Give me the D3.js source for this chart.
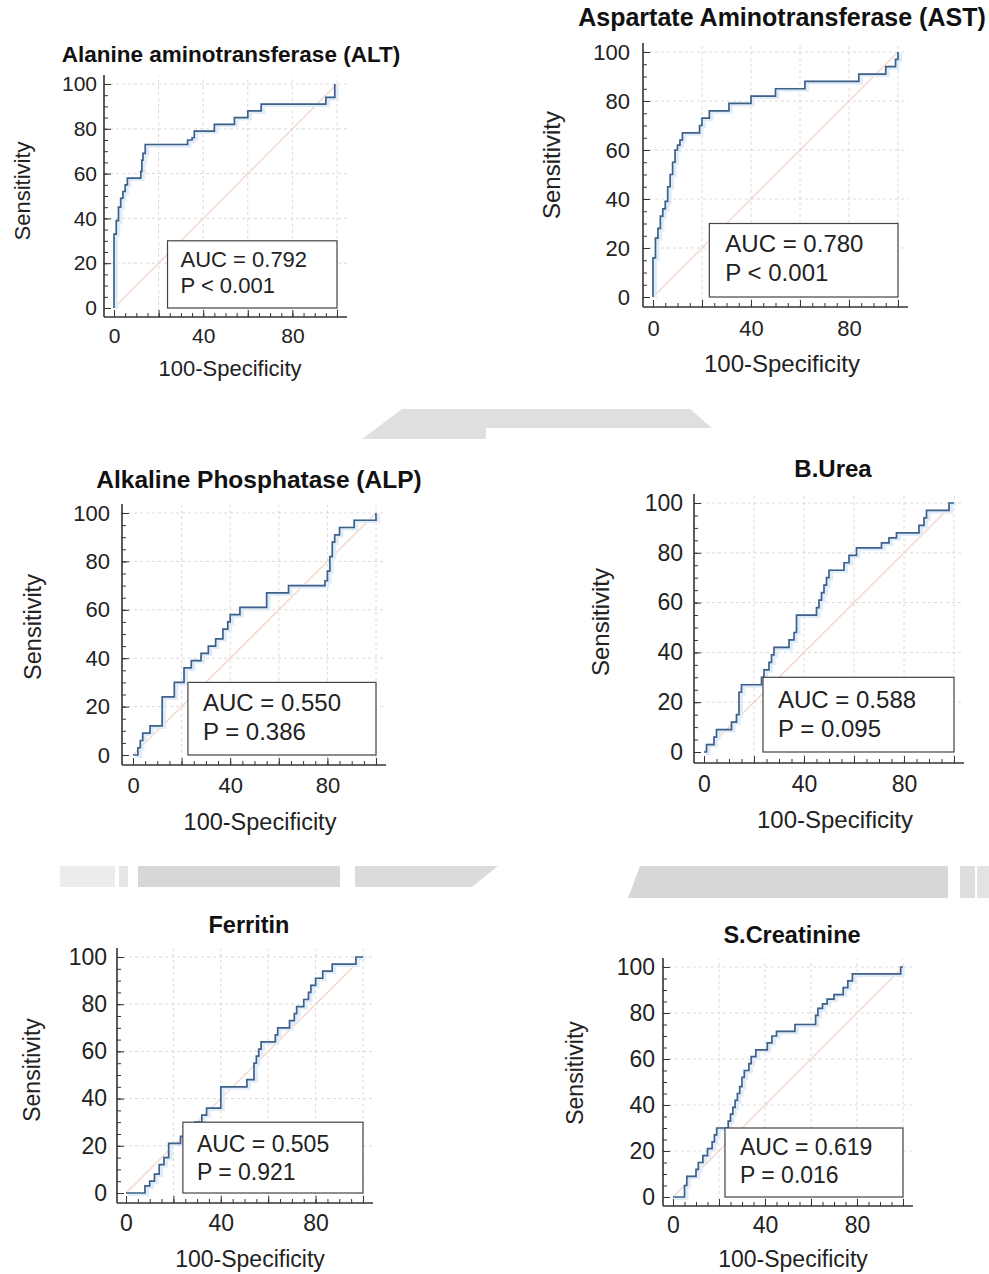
<!DOCTYPE html>
<html>
<head>
<meta charset="utf-8">
<script src="https://cdn.jsdelivr.net/npm/d3@7"></script>
<style>
  body { margin: 0; background: #fff; }
  svg { display: block; font-family: "Liberation Sans", Arial, sans-serif; }
</style>
</head>
<body>
<svg width="989" height="1274"></svg>
<script>
// ROC points as [100-Specificity, Sensitivity]
const altRoc = [[0,0],[0,33],[1,33],[1,39],[2,39],[2,45],[3,45],[3,49],[4,49],[4,52],[5,52],[5,55],[6,55],[6,58],[12,58],[12,61],[12.5,61],[12.5,66],[13,66],[13,69],[14,69],[14,73],[33,73],[33,75],[35,75],[35,76],[36,76],[36,79],[45,79],[45,82],[54,82],[54,85],[60,85],[60,88],[66,88],[66,91],[95,91],[95,94],[99,94],[99,100]];
const astRoc = [[0,0],[0,16],[1,16],[1,24],[2,24],[2,28],[3,28],[3,33],[4,33],[4,36],[5,36],[5,39],[6,39],[6,45],[7,45],[7,50],[8,50],[8,55],[9,55],[9,60],[10,60],[10,62],[11,62],[11,64],[12,64],[12,67],[19,67],[19,70],[20,70],[20,73],[23,73],[23,76],[31,76],[31,79],[40,79],[40,82],[50,82],[50,85],[62,85],[62,88],[84,88],[84,91],[95,91],[95,94],[99,94],[99,97],[100,97],[100,100]];
const alpRoc = [[0,0],[2,0],[2,3],[3,3],[3,6],[4,6],[4,9],[7,9],[7,12],[12,12],[12,24],[17,24],[17,30],[21,30],[21,36],[24,36],[24,39],[28,39],[28,42],[31,42],[31,45],[34,45],[34,48],[37,48],[37,52],[39,52],[39,55],[40,55],[40,58],[44,58],[44,61],[55,61],[55,67],[64,67],[64,70],[79,70],[79,72],[80,72],[80,76],[81,76],[81,82],[82,82],[82,88],[83,88],[83,91],[85,91],[85,94],[91,94],[91,97],[100,97],[100,100]];
const ureaRoc = [[0,0],[1,0],[1,3],[4,3],[4,6],[5,6],[5,9],[11,9],[11,12],[13,12],[13,15],[14,15],[14,24],[15,24],[15,27],[23,27],[23,30],[24,30],[24,33],[26,33],[26,36],[27,36],[27,39],[28,39],[28,42],[34,42],[34,45],[36,45],[36,48],[37,48],[37,55],[45,55],[45,58],[46,58],[46,61],[47,61],[47,64],[48,64],[48,67],[49,67],[49,70],[50,70],[50,73],[56,73],[56,76],[58,76],[58,79],[61,79],[61,82],[71,82],[71,84],[74,84],[74,86],[77,86],[77,88],[86,88],[86,91],[88,91],[88,94],[89,94],[89,97],[98,97],[98,100],[100,100]];
const ferritinRoc = [[0,0],[8,0],[8,3],[10,3],[10,5],[12,5],[12,8],[14,8],[14,12],[16,12],[16,15],[18,15],[18,21],[23,21],[23,24],[26,24],[26,27],[29,27],[29,30],[32,30],[32,33],[34,33],[34,36],[40,36],[40,45],[51,45],[51,48],[54,48],[54,55],[55,55],[55,58],[56,58],[56,61],[57,61],[57,64],[63,64],[63,67],[64,67],[64,70],[69,70],[69,73],[71,73],[71,76],[72,76],[72,79],[75,79],[75,82],[77,82],[77,85],[78,85],[78,88],[80,88],[80,91],[83,91],[83,94],[87,94],[87,97],[97,97],[97,100],[100,100]];
const creatRoc = [[0,0],[5,0],[5,5],[6,5],[6,9],[10,9],[10,12],[11,12],[11,15],[13,15],[13,18],[15,18],[15,21],[17,21],[17,24],[18,24],[18,27],[19,27],[19,30],[24,30],[24,33],[25,33],[25,36],[26,36],[26,39],[27,39],[27,42],[28,42],[28,45],[29,45],[29,48],[30,48],[30,52],[31,52],[31,55],[33,55],[33,58],[34,58],[34,61],[36,61],[36,64],[41,64],[41,67],[43,67],[43,70],[45,70],[45,72],[53,72],[53,75],[62,75],[62,79],[63,79],[63,82],[65,82],[65,84],[67,84],[67,86],[70,86],[70,88],[74,88],[74,91],[76,91],[76,94],[78,94],[78,97],[99,97],[99,100],[100,100]];

const titles = ["Alanine aminotransferase (ALT)", "Aspartate Aminotransferase (AST)", "Alkaline Phosphatase (ALP)", "B.Urea", "Ferritin", "S.Creatinine"];
const aucValues = ["0.792", "0.780", "0.550", "0.588", "0.505", "0.619"];
const pValues = ["P < 0.001", "P < 0.001", "P = 0.386", "P = 0.095", "P = 0.921", "P = 0.016"];
const curves = [altRoc, astRoc, alpRoc, ureaRoc, ferritinRoc, creatRoc];
const xTickLabels = [0, 40, 80];
const yTickLabels = [0, 20, 40, 60, 80, 100];

// where each panel sits on the page
const layout = [
  { x0: 114, x100: 337, y0: 308, y100: 84,  ax: 104, ay: 317, titleY: 62,  titleX: 231, senX: 22,  senY: 191,  labY: 376,  labX: 230, boxL: 24,   t1: 26, t2: 52, tx: 13, fT: 22.5, fK: 21, fL: 22, fA: 22, px: 11, py: 7 },
  { x0: 653, x100: 898, y0: 297, y100: 52,  ax: 643, ay: 307, titleY: 26,  titleX: 782, senX: 551, senY: 165,  labY: 372,  labX: 782, boxL: 23,   t1: 28, t2: 57, tx: 16, fT: 25, fK: 22, fL: 24, fA: 24, px: 13, py: 13 },
  { x0: 133, x100: 376, y0: 755, y100: 513, ax: 122, ay: 765, titleY: 488, titleX: 259, senX: 33,  senY: 627,  labY: 830,  labX: 260, boxL: 22.6, t1: 29, t2: 58, tx: 15, fT: 24.5, fK: 22, fL: 23.5, fA: 24, px: 12, py: 12 },
  { x0: 704, x100: 954, y0: 752, y100: 503, ax: 694, ay: 763, titleY: 477, titleX: 833, senX: 600, senY: 622,  labY: 828,  labX: 835, boxL: 23.6, t1: 31, t2: 60, tx: 15, fT: 24, fK: 23, fL: 24, fA: 24, px: 13, py: 11 },
  { x0: 126, x100: 363, y0: 1193, y100: 957, ax: 117, ay: 1203, titleY: 933, titleX: 249, senX: 32, senY: 1070, labY: 1267, labX: 250, boxL: 24, t1: 30, t2: 58, tx: 14, fT: 23.5, fK: 23, fL: 23, fA: 23, px: 12, py: 10 },
  { x0: 673, x100: 903, y0: 1197, y100: 967, ax: 663, ay: 1206, titleY: 943, titleX: 792, senX: 575, senY: 1073, labY: 1267, labX: 793, boxL: 22.6, t1: 27, t2: 55, tx: 15, fT: 23.5, fK: 23, fL: 23, fA: 23, px: 11, py: 8 }
];

const svg = d3.select("svg");

// grey page bands behind the figure
const bands = [
  { pts: [[362,439],[402,409],[690,409],[712,428],[486,428],[486,439]], c: "#dfdfdf" },
  { pts: [[60,866],[115,866],[115,887],[60,887]], c: "#ececec" },
  { pts: [[119,866],[128,866],[128,887],[119,887]], c: "#e6e6e6" },
  { pts: [[138,866],[340,866],[340,887],[138,887]], c: "#d7d7d7" },
  { pts: [[355,866],[498,866],[472,887],[355,887]], c: "#dbdbdb" },
  { pts: [[640,866],[948,866],[948,898],[628,898]], c: "#d7d7d7" },
  { pts: [[960,866],[975,866],[975,898],[960,898]], c: "#dedede" },
  { pts: [[977,866],[989,866],[989,898],[977,898]], c: "#e3e3e3" }
];
svg.selectAll("polygon.band").data(bands).enter().append("polygon")
  .attr("points", d => d.pts.join(" "))
  .attr("fill", d => d.c);

layout.forEach((p, i) => {
  const x = d3.scaleLinear().domain([0, 100]).range([p.x0, p.x100]);
  const y = d3.scaleLinear().domain([0, 100]).range([p.y0, p.y100]);
  const g = svg.append("g");

  // dashed grid
  g.selectAll(".gx").data(d3.range(20, 101, 20)).enter().append("line")
    .attr("x1", d => x(d)).attr("x2", d => x(d))
    .attr("y1", p.ay).attr("y2", y(100) - 8)
    .attr("stroke", "#dadada").attr("stroke-dasharray", "3,3");
  g.selectAll(".gy").data(d3.range(20, 101, 20)).enter().append("line")
    .attr("y1", d => y(d)).attr("y2", d => y(d))
    .attr("x1", p.ax).attr("x2", x(100) + 10)
    .attr("stroke", "#dadada").attr("stroke-dasharray", "3,3");

  // chance line
  g.append("line")
    .attr("x1", x(0)).attr("y1", y(0)).attr("x2", x(100)).attr("y2", y(100))
    .attr("stroke", "#f2d6ca").attr("stroke-width", 1.3);

  // ROC curve
  const line = d3.line().x(d => x(d[0])).y(d => y(d[1]));
  g.append("path").datum(curves[i]).attr("d", line)
    .attr("fill", "none").attr("stroke", "#e0edf8").attr("stroke-width", 4)
    .attr("transform", "translate(2,1)");
  g.append("path").datum(curves[i]).attr("d", line)
    .attr("fill", "none").attr("stroke", "#3f6189").attr("stroke-width", 1.7);

  // AUC box
  g.append("rect")
    .attr("x", x(p.boxL)).attr("y", y(30))
    .attr("width", x(100) - x(p.boxL)).attr("height", y(0) - y(30))
    .attr("fill", "#fff").attr("stroke", "#444").attr("stroke-width", 1.2);
  g.append("text").attr("x", x(p.boxL) + p.tx).attr("y", y(30) + p.t1)
    .attr("font-size", p.fA).attr("fill", "#222").text("AUC = " + aucValues[i]);
  g.append("text").attr("x", x(p.boxL) + p.tx).attr("y", y(30) + p.t2)
    .attr("font-size", p.fA).attr("fill", "#222").text(pValues[i]);

  // axes
  const xMinor = d3.axisBottom(x).tickValues(d3.range(0, 101, 5)).tickSize(-4).tickFormat("");
  const xMajor = d3.axisBottom(x).tickValues(d3.range(0, 101, 20)).tickSize(-7).tickPadding(p.px)
    .tickFormat(d => xTickLabels.includes(d) ? d : "");
  const yMinor = d3.axisLeft(y).tickValues(d3.range(0, 101, 5)).tickSize(-4).tickFormat("");
  const yMajor = d3.axisLeft(y).tickValues(yTickLabels).tickSize(-7).tickPadding(p.py);

  [xMinor, xMajor].forEach(a => {
    const ag = g.append("g").attr("transform", `translate(0,${p.ay})`).call(a);
    ag.select(".domain").remove();
    ag.selectAll("line").attr("stroke", "#333");
    ag.selectAll("text").attr("font-size", p.fK).attr("fill", "#222")
      .attr("font-family", "Liberation Sans, Arial, sans-serif");
  });
  [yMinor, yMajor].forEach(a => {
    const ag = g.append("g").attr("transform", `translate(${p.ax},0)`).call(a);
    ag.select(".domain").remove();
    ag.selectAll("line").attr("stroke", "#333");
    ag.selectAll("text").attr("font-size", p.fK).attr("fill", "#222")
      .attr("font-family", "Liberation Sans, Arial, sans-serif");
  });
  g.append("line").attr("x1", p.ax).attr("x2", x(100) + 10).attr("y1", p.ay).attr("y2", p.ay)
    .attr("stroke", "#333").attr("stroke-width", 1.6);
  g.append("line").attr("x1", p.ax).attr("x2", p.ax).attr("y1", p.ay).attr("y2", y(100) - 9)
    .attr("stroke", "#333").attr("stroke-width", 1.6);

  // titles and labels
  g.append("text").attr("x", p.titleX).attr("y", p.titleY)
    .attr("text-anchor", "middle").attr("font-weight", "bold")
    .attr("font-size", p.fT).attr("fill", "#111").text(titles[i]);
  g.append("text").attr("x", p.labX).attr("y", p.labY)
    .attr("text-anchor", "middle").attr("font-size", p.fL).attr("fill", "#222")
    .text("100-Specificity");
  g.append("text")
    .attr("transform", `translate(${p.senX},${p.senY}) rotate(-90)`)
    .attr("text-anchor", "middle").attr("dominant-baseline", "central")
    .attr("font-size", p.fL).attr("fill", "#222").text("Sensitivity");
});
</script>
</body>
</html>
